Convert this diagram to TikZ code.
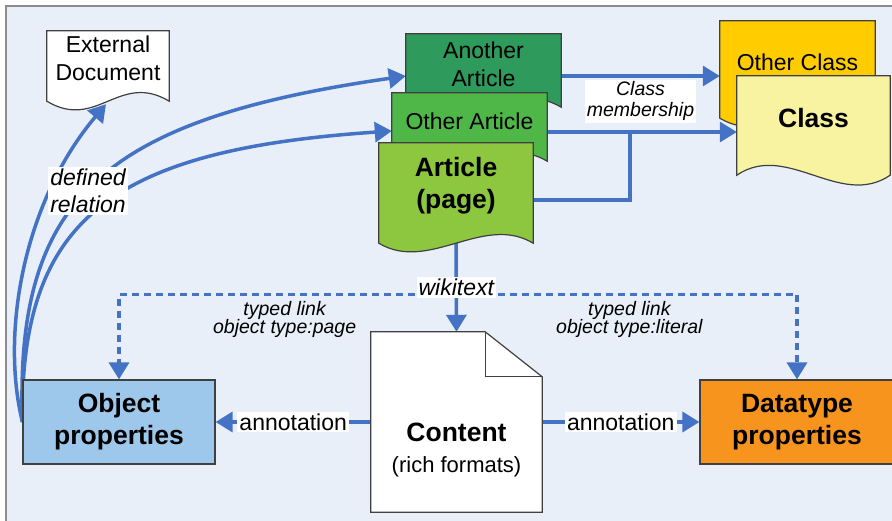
\documentclass[tikz,border=0pt]{standalone}
\usepackage{fontspec}
\setmainfont{Liberation Sans}
\usetikzlibrary{arrows.meta,backgrounds}

\definecolor{linkblue}{RGB}{68,114,196}
\definecolor{paneblue}{RGB}{233,239,248}
\definecolor{anartgreen}{RGB}{46,154,92}
\definecolor{otartgreen}{RGB}{78,183,72}
\definecolor{artgreen}{RGB}{141,198,63}
\definecolor{oclsgold}{RGB}{255,204,0}
\definecolor{clsyellow}{RGB}{248,243,160}
\definecolor{objblue}{RGB}{157,200,235}
\definecolor{dtorange}{RGB}{247,148,29}

\tikzset{
  conn/.style={draw=linkblue, line width=3.5pt, -{Triangle[length=17pt,width=20pt]}},
  typedlink/.style={conn, dash pattern=on 7pt off 5pt},
  outline/.style={draw=black!75, line width=1.2pt},
  page/.style={inner sep=0pt},
  pagetext/.style={align=center, font=\fontsize{23}{28}\selectfont},
  boldtext/.style={align=center, font=\bfseries\fontsize{26.5}{32}\selectfont},
  propbox/.style={outline, minimum width=192pt, minimum height=84pt, boldtext},
  tag/.style={fill=white, inner sep=2pt, font=\fontsize{23}{27}\selectfont},
  itag/.style={fill=white, inner sep=2pt, align=center, font=\itshape\fontsize{23}{27}\selectfont},
  smalltag/.style={align=center, inner sep=1pt, font=\itshape\fontsize{19.5}{18.5}\selectfont},
}

% sheet with a wavy lower edge: node, fill, bend near the right, bend near the left
\newcommand\pageshape[4]{%
  \filldraw[outline, fill=#2] (#1.north west) -- (#1.north east) -- (#1.south east)
    .. controls ([xshift=-50pt, yshift=#3]#1.south east)
    and ([xshift=50pt, yshift=#4]#1.south west) .. (#1.south west) -- cycle;}

\begin{document}
\begin{tikzpicture}[x=1pt, y=-1pt]
  \useasboundingbox (0,0) rectangle (892,521);

  % pages
  \node[page, minimum width=122pt, minimum height=70pt,
    label={[pagetext, yshift=8pt]center:{External\\Document}}] (ext) at (108,66) {};
  \node[page, minimum width=155pt, minimum height=73pt,
    label={[pagetext, yshift=6pt]center:{Another\\Article}}] (anart) at (483.5,70.5) {};
  \node[page, minimum width=155pt, minimum height=68pt,
    label={[pagetext, yshift=6pt]center:{Other Article}}] (otart) at (469.5,127) {};
  \node[page, minimum width=154pt, minimum height=100pt,
    label={[boldtext, yshift=7pt]center:{Article\\(page)}}] (art) at (456,193) {};

  % classes
  \node[page, minimum width=155pt, minimum height=97pt,
    label={[pagetext, yshift=7.5pt]center:{Other Class}}] (ocls) at (797.5,69.5) {};
  \node[page, minimum width=153pt, minimum height=99pt,
    label={[boldtext, yshift=7.5pt]center:{Class}}] (cls) at (813.5,125.5) {};

  % properties
  \node[propbox, fill=objblue] (obj) at (119,422) {Object\\properties};
  \node[propbox, fill=dtorange, minimum width=194pt] (dt) at (797,422) {Datatype\\properties};

  % content sheet, outline drawn below
  \node[minimum width=171pt, minimum height=180pt,
    label={[align=center, yshift=-28pt]center:{{\bfseries\fontsize{26.5}{32}\selectfont Content}\\[14pt]{\fontsize{22}{26}\selectfont (rich formats)}}}] (content) at (456.5,422) {};

  \node[itag] (rel) at (88,191) {defined\\relation};

  \begin{scope}[on background layer]
    \fill[paneblue] (6,6) rectangle (894,523);
    \draw[black!45, line width=1.5pt] (6,523) -- (6,6) -- (894,6);

    % defined relations
    \draw[conn] (obj.west) .. controls (0,330) and (25,200) .. ([xshift=-2pt,yshift=-3pt]ext.south);
    \draw[conn] (obj.west) .. controls (15,200) and (100,120) .. ([yshift=-5.5pt]anart.west);
    \draw[conn] (obj.west) .. controls (20,220) and (110,150) .. ([yshift=-4pt]otart.west);

    % class membership
    \draw[conn] ([yshift=-5.5pt]anart.east) -- node[itag, below=2pt, font=\itshape\fontsize{19.5}{21}\selectfont]
      {Class\\membership} ([yshift=-5.5pt]anart.east -| ocls.west);
    \draw[conn] ([yshift=-5pt]otart.east) -- ([yshift=-5pt]otart.east -| cls.west);
    \draw[linkblue, line width=3.5pt] ([yshift=-7pt]art.east) -| ([xshift=83pt,yshift=-5pt]otart.east);

    % wikitext and typed links
    \draw[conn] (art.south) -- node[itag] (wiki) {wikitext} (content.north);
    \draw[typedlink] ([yshift=-7pt]wiki.west) -| node[smalltag, pos=0.22, below=4pt]
      {typed link\\object type:page} (obj.north);
    \draw[typedlink] ([yshift=-7pt]wiki.east) -| node[smalltag, pos=0.22, below=4pt]
      {typed link\\object type:literal} (dt.north);

    % annotations
    \draw[conn] (content.west) -- node[tag] {annotation} (obj.east);
    \draw[conn] (content.east) -- node[tag] {annotation} (dt.west);

    % sheets
    \pageshape{ext}{white}{30pt}{-30pt}
    \pageshape{anart}{anartgreen}{30pt}{-30pt}
    \pageshape{otart}{otartgreen}{30pt}{-30pt}
    \pageshape{art}{artgreen}{30pt}{-30pt}
    \pageshape{ocls}{oclsgold}{30pt}{-30pt}
    \pageshape{cls}{clsyellow}{-34pt}{34pt}

    % sheet with folded corner
    \filldraw[outline, fill=white] (content.north west)
      -- ([xshift=-57pt]content.north east) -- ([yshift=-45pt]content.north east)
      -- (content.south east) -- (content.south west) -- cycle;
    \draw[outline] ([xshift=-57pt]content.north east)
      |- ([yshift=-45pt]content.north east);
  \end{scope}
\end{tikzpicture}
\end{document}
